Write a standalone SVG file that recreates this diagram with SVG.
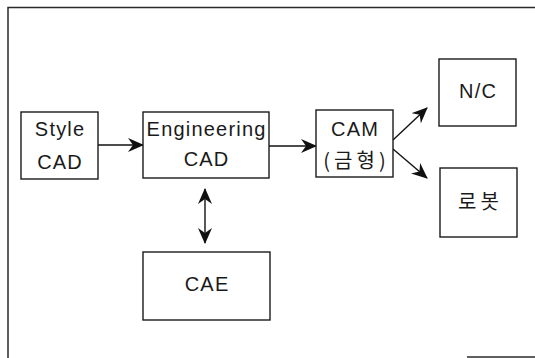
<svg xmlns="http://www.w3.org/2000/svg" width="535" height="358" viewBox="0 0 535 358">
<style>
.box{fill:#fff;stroke:#1a1a1a;stroke-width:1.4}
.t{font-family:"Liberation Sans","Noto Sans CJK KR",Arial,sans-serif;font-size:20px;fill:#1a1a1a;text-anchor:middle;letter-spacing:1.2px}
.k{font-family:"Noto Sans CJK KR","Liberation Sans",sans-serif;font-size:20px;fill:#1a1a1a;text-anchor:middle;letter-spacing:4px}
.frame{fill:none;stroke:#2a2a2a;stroke-width:1.5}
.c{fill:none;stroke:#111;stroke-width:1.4}
</style>
<defs>
<marker id="ah" markerUnits="userSpaceOnUse" markerWidth="16" markerHeight="14" refX="15" refY="7" orient="auto-start-reverse" viewBox="0 0 16 14">
<path d="M0,0 L16,7 L0,14 L5,7 z" fill="#111"/>
</marker>
</defs>
<rect width="535" height="358" fill="#fff"/>
<g id="frame">
<path class="frame" d="M8,358 L8,7.5 L535,7.5"/>
<path class="frame" d="M467,357 L535,357"/>
</g>
<g id="connectors">
<line class="c" x1="98" y1="145" x2="143" y2="145" marker-end="url(#ah)"/>
<line class="c" x1="269" y1="146" x2="316" y2="146" marker-end="url(#ah)"/>
<line class="c" x1="205" y1="189" x2="205" y2="243" marker-start="url(#ah)" marker-end="url(#ah)"/>
<line class="c" x1="393" y1="140" x2="427" y2="108" marker-end="url(#ah)"/>
<line class="c" x1="393" y1="149" x2="427" y2="178" marker-end="url(#ah)"/>
</g>
<g id="style-cad">
<rect class="box" x="21" y="112" width="77" height="67"/>
<text class="t" x="60.1" y="136">Style</text>
<text class="t" x="60.1" y="169">CAD</text>
</g>
<g id="engineering-cad">
<rect class="box" x="143" y="112" width="126" height="66"/>
<text class="t" x="206.6" y="136">Engineering</text>
<text class="t" x="206.6" y="166">CAD</text>
</g>
<g id="cam">
<rect class="box" x="316" y="110" width="77" height="67"/>
<text class="t" x="355.1" y="136">CAM</text>
<text class="k" x="356.5" y="168">(금형)</text>
</g>
<g id="nc">
<rect class="box" x="439" y="59" width="77" height="67"/>
<text class="t" x="478.1" y="98">N/C</text>
</g>
<g id="robot">
<rect class="box" x="440" y="168" width="77" height="69"/>
<text class="k" x="480.5" y="209">로봇</text>
</g>
<g id="cae">
<rect class="box" x="143" y="252" width="127" height="68"/>
<text class="t" x="207.1" y="291">CAE</text>
</g>
</svg>
